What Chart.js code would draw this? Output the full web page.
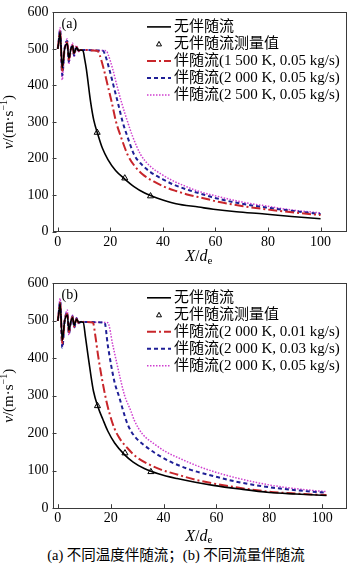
<!DOCTYPE html>
<html>
<head>
<meta charset="utf-8">
<script src="https://cdn.jsdelivr.net/npm/chart.js@4.4.1/dist/chart.umd.min.js"></script>
<style>
  body { margin: 0; background: #fff; }
  #wrap { position: relative; width: 350px; height: 567px; overflow: hidden; }
  .box { position: absolute; left: 0; }
  #caption { position: absolute; left: 0; width: 352px; top: 546px; text-align: center;
    font: 14.5px "Liberation Serif", "Noto Sans CJK SC", serif; color: #000; line-height: 18px; }
</style>
</head>
<body>
<div id="wrap">
  <div class="box" style="top:0px"><canvas id="chartA" width="350" height="265"></canvas></div>
  <div class="box" style="top:270px"><canvas id="chartB" width="350" height="275"></canvas></div>
  <div id="caption">(a) 不同温度伴随流；(b) 不同流量伴随流</div>
</div>
<script>
// ---- data: X/de and v (m/s) ----
// (a) different coflow temperature
var aBlackX = [0, 0.3, 0.9, 1.7, 2.6, 3.6, 4.2, 5.0, 5.6, 6.2, 7.1, 7.9, 8.8, 9.6, 10.3, 10.9, 12.5, 13.7, 15.3, 17, 19.1, 22, 25.3, 29, 32.9, 38, 45, 53.6, 59.2, 68, 78.7, 89, 100];
var aBlackV = [500, 515, 545, 448, 500, 515, 475, 500, 508, 488, 504, 496, 497, 495, 470, 444, 355, 305, 265, 228, 197, 167, 145, 123, 106, 91, 76, 67, 61, 54, 48, 41, 35];
var aRedX = [0, 0.3, 0.9, 1.7, 2.6, 3.6, 4.2, 5.0, 5.6, 6.2, 7.1, 7.9, 8.8, 11, 13, 15.1, 16, 17.5, 19, 20.5, 22.2, 24, 26.6, 29.5, 32.9, 36.5, 40.4, 45, 50, 55, 60, 70, 80, 90, 100];
var aRedV = [500, 516, 548, 440, 500, 518, 470, 500, 510, 485, 505, 495, 497, 497, 496, 495, 482, 445, 400, 355, 300, 260, 210, 177, 153, 137, 123, 111, 100, 92, 83, 70, 60, 52, 45];
var aBlueX = [0, 0.3, 0.9, 1.7, 2.6, 3.6, 4.2, 5.0, 5.6, 6.2, 7.1, 7.9, 8.8, 11, 14, 17.2, 18.1, 19.6, 21.2, 22.8, 24.7, 26.5, 29.1, 32, 35.4, 40, 44.2, 50, 55, 59.2, 70, 80, 90, 100];
var aBlueV = [500, 518, 553, 428, 500, 522, 465, 500, 512, 482, 507, 494, 497, 497, 496, 495, 482, 445, 400, 355, 300, 260, 210, 183, 162, 143, 128, 113, 102, 93, 76, 65, 56, 48];
var aMagX = [0, 0.3, 0.9, 1.7, 2.6, 3.6, 4.2, 5.0, 5.6, 6.2, 7.1, 7.9, 8.8, 11, 15, 18.4, 19.3, 20.9, 22.5, 24.2, 26.6, 28.5, 31.6, 35, 39.2, 43.5, 47.9, 53.6, 59.2, 70, 80, 90, 100];
var aMagV = [500, 520, 558, 415, 500, 527, 458, 500, 516, 478, 510, 492, 498, 497, 496, 495, 482, 445, 400, 355, 300, 260, 210, 180, 158, 140, 126, 110, 99, 81, 69, 58, 51];
var aMeasX = [15, 25.5, 35.3];
var aMeasV = [271, 146, 97];

// (b) different coflow mass flow
var bBlackX = [0, 0.3, 0.9, 1.7, 2.6, 3.6, 4.2, 5.0, 5.6, 6.2, 7.1, 7.9, 8.8, 9.6, 10.5, 11.4, 12.5, 13.5, 15.2, 17.1, 18.9, 21.5, 25.2, 28.5, 32.7, 38, 45.1, 52, 58.8, 68, 80, 90, 101.6];
var bBlackV = [500, 515, 545, 448, 500, 515, 475, 500, 508, 488, 504, 496, 497, 496, 455, 409, 355, 312, 270, 236, 206, 174, 143, 123, 106, 92, 79, 69, 61, 52, 42, 38, 34];
var bRedX = [0, 0.3, 0.9, 1.7, 2.6, 3.6, 4.2, 5.0, 5.6, 6.2, 7.1, 7.9, 8.8, 11, 13.3, 14.2, 15.2, 17.1, 18.5, 19.6, 21.4, 23.5, 26.4, 29.5, 33.9, 39, 45.1, 52, 58.8, 68, 80, 90, 101.6];
var bRedV = [500, 516, 548, 440, 500, 518, 470, 500, 510, 485, 505, 495, 497, 497, 495, 460, 409, 330, 282, 252, 213, 185, 160, 138, 119, 103, 90, 76, 66, 55, 44, 39, 35];
var bBlueX = [0, 0.3, 0.9, 1.7, 2.6, 3.6, 4.2, 5.0, 5.6, 6.2, 7.1, 7.9, 8.8, 11, 15, 17.7, 18.9, 21.4, 23.3, 24.5, 26.4, 29, 32.7, 37, 42.6, 50, 58.8, 68, 80, 90, 101.6];
var bBlueV = [500, 518, 553, 428, 500, 522, 465, 500, 512, 482, 507, 494, 497, 497, 496, 495, 435, 338, 295, 265, 224, 192, 168, 146, 124, 103, 86, 70, 56, 48, 41];
var bMagX = [0, 0.3, 0.9, 1.7, 2.6, 3.6, 4.2, 5.0, 5.6, 6.2, 7.1, 7.9, 8.8, 11, 15, 18.9, 20.8, 23.9, 25.2, 27.7, 28.9, 32, 36.4, 41, 46.4, 52, 58.8, 68, 80, 90, 101.6];
var bMagV = [500, 522, 560, 431, 500, 529, 462, 500, 515, 480, 508, 493, 498, 497, 496, 495, 435, 338, 302, 258, 235, 198, 172, 150, 132, 115, 98, 80, 62, 52, 44];
var bMeasX = [15, 25.4, 35.2];
var bMeasV = [273, 147, 97];

var yTicks = [0, 100, 200, 300, 400, 500, 600];
var xTicks = [0, 20, 40, 60, 80, 100];

var aLegend = ['无伴随流', '无伴随流测量值', '伴随流(1 500 K, 0.05 kg/s)', '伴随流(2 000 K, 0.05 kg/s)', '伴随流(2 500 K, 0.05 kg/s)'];
var bLegend = ['无伴随流', '无伴随流测量值', '伴随流(2 000 K, 0.01 kg/s)', '伴随流(2 000 K, 0.03 kg/s)', '伴随流(2 000 K, 0.05 kg/s)'];

// ---- styles ----
var SERIF = '"Liberation Serif", "Noto Sans CJK SC", serif';
var styles = [
  { color: '#000000', width: 1.6, dash: [] },
  { color: '#000000', marker: true },
  { color: '#c8262b', width: 2, dash: [9, 3, 2, 3] },
  { color: '#1f1f96', width: 2, dash: [4, 3] },
  { color: '#cf3fcf', width: 1.5, dash: [1.5, 1.5] }
];

function pts(xs, vs) {
  var out = [];
  for (var i = 0; i < xs.length; i++) out.push({ x: xs[i], y: vs[i] });
  return out;
}

function lineSet(label, xs, vs, st) {
  return {
    label: label, data: pts(xs, vs), showLine: true,
    borderColor: st.color, borderWidth: st.width, borderDash: st.dash,
    pointRadius: 0, fill: false, cubicInterpolationMode: 'monotone'
  };
}

function drawRuns(ctx, runs, cx, cy) {
  var total = 0;
  runs.forEach(function(r) { ctx.font = r.font; total += ctx.measureText(r.t).width; });
  var x = cx - total / 2;
  runs.forEach(function(r) {
    ctx.font = r.font;
    ctx.fillText(r.t, x, cy + (r.dy || 0));
    x += ctx.measureText(r.t).width;
  });
}

// frame, inward ticks, titles and legend
var decor = {
  id: 'decor',
  afterDraw: function(chart, args, opts) {
    var ctx = chart.ctx, a = chart.chartArea;
    var xs = chart.scales.x, ys = chart.scales.y;
    ctx.save();
    ctx.strokeStyle = '#3a3a3a';
    ctx.lineWidth = 1;
    ctx.setLineDash([]);
    ctx.strokeRect(Math.round(a.left) + 0.5, Math.round(a.top) + 0.5, Math.round(a.right - a.left), Math.round(a.bottom - a.top));
    ctx.beginPath();
    xTicks.forEach(function(t) {
      var px = Math.round(xs.getPixelForValue(t)) + 0.5;
      ctx.moveTo(px, a.bottom); ctx.lineTo(px, a.bottom - 4);
    });
    yTicks.forEach(function(t) {
      var py = Math.round(ys.getPixelForValue(t)) + 0.5;
      ctx.moveTo(a.left, py); ctx.lineTo(a.left + 4, py);
    });
    ctx.stroke();

    ctx.fillStyle = '#000';
    ctx.textBaseline = 'middle';
    ctx.textAlign = 'left';
    // panel tag
    ctx.font = '14px ' + SERIF;
    ctx.fillText(opts.tag, a.left + 9, a.top + 12);

    // legend
    var rowY = a.top + 14.5;
    opts.legend.forEach(function(txt, i) {
      var st = styles[i], y = rowY + i * 17;
      if (st.marker) {
        ctx.setLineDash([]);
        ctx.lineWidth = 1;
        ctx.strokeStyle = st.color;
        ctx.beginPath();
        ctx.moveTo(159, y - 2.5); ctx.lineTo(161.5, y + 2); ctx.lineTo(156.5, y + 2); ctx.closePath();
        ctx.stroke();
      } else {
        ctx.setLineDash(st.dash);
        ctx.lineWidth = st.width;
        ctx.strokeStyle = st.color;
        ctx.beginPath();
        ctx.moveTo(147, y); ctx.lineTo(171, y);
        ctx.stroke();
      }
      ctx.setLineDash([]);
      ctx.font = '15px ' + SERIF;
      ctx.fillText(txt, 174, y);
    });

    // x title
    var midX = (a.left + a.right) / 2;
    drawRuns(ctx, [
      { t: 'X', font: 'italic 16px ' + SERIF },
      { t: '/', font: '16px ' + SERIF },
      { t: 'd', font: 'italic 16px ' + SERIF },
      { t: 'e', font: '11px ' + SERIF, dy: 4 }
    ], midX, opts.xTitleY);

    // y title
    ctx.translate(9, (a.top + a.bottom) / 2);
    ctx.rotate(-Math.PI / 2);
    drawRuns(ctx, [
      { t: 'v', font: 'italic 15px ' + SERIF },
      { t: '/(m·s', font: '15px ' + SERIF },
      { t: '−1', font: '10px ' + SERIF, dy: -5 },
      { t: ')', font: '15px ' + SERIF }
    ], 0, 0);
    ctx.restore();
  }
};

function makeChart(id, sets, o) {
  return new Chart(document.getElementById(id), {
    type: 'scatter',
    data: { datasets: sets },
    options: {
      responsive: false,
      animation: false,
      layout: { padding: { top: o.padTop, right: 2, left: 0, bottom: 0 } },
      plugins: {
        legend: { display: false },
        tooltip: { enabled: false },
        decor: { tag: o.tag, legend: o.legend, xTitleY: o.xTitleY }
      },
      scales: {
        x: {
          type: 'linear', min: -2, max: o.xMax,
          afterBuildTicks: function(s) { s.ticks = xTicks.map(function(v) { return { value: v }; }); },
          ticks: { color: '#000', font: { family: SERIF, size: 14 }, padding: 2, maxRotation: 0, autoSkip: false },
          grid: { display: false, drawTicks: false }, border: { display: false },
          afterFit: function(s) { s.height = o.xHeight; }
        },
        y: {
          type: 'linear', min: 0, max: 600,
          afterBuildTicks: function(s) { s.ticks = yTicks.map(function(v) { return { value: v }; }); },
          ticks: { color: '#000', font: { family: SERIF, size: 14 }, padding: 4 },
          grid: { display: false, drawTicks: false }, border: { display: false },
          afterFit: function(s) { s.width = 52.5; }
        }
      }
    },
    plugins: [decor]
  });
}

makeChart('chartA', [
  lineSet(aLegend[0], aBlackX, aBlackV, styles[0]),
  lineSet(aLegend[2], aRedX, aRedV, styles[2]),
  lineSet(aLegend[3], aBlueX, aBlueV, styles[3]),
  lineSet(aLegend[4], aMagX, aMagV, styles[4]),
  { label: aLegend[1], data: pts(aMeasX, aMeasV), showLine: false, pointStyle: 'triangle',
    pointRadius: 3.5, borderColor: '#000', borderWidth: 1, backgroundColor: 'rgba(0,0,0,0)' }
], { tag: '(a)', legend: aLegend, padTop: 4, xHeight: 33.5, xMax: 109.3, xTitleY: 257 });

makeChart('chartB', [
  lineSet(bLegend[0], bBlackX, bBlackV, styles[0]),
  lineSet(bLegend[2], bRedX, bRedV, styles[2]),
  lineSet(bLegend[3], bBlueX, bBlueV, styles[3]),
  lineSet(bLegend[4], bMagX, bMagV, styles[4]),
  { label: bLegend[1], data: pts(bMeasX, bMeasV), showLine: false, pointStyle: 'triangle',
    pointRadius: 3.5, borderColor: '#000', borderWidth: 1, backgroundColor: 'rgba(0,0,0,0)' }
], { tag: '(b)', legend: bLegend, padTop: 13.3, xHeight: 36.8, xMax: 108.6, xTitleY: 266.5 });
</script>
</body>
</html>
